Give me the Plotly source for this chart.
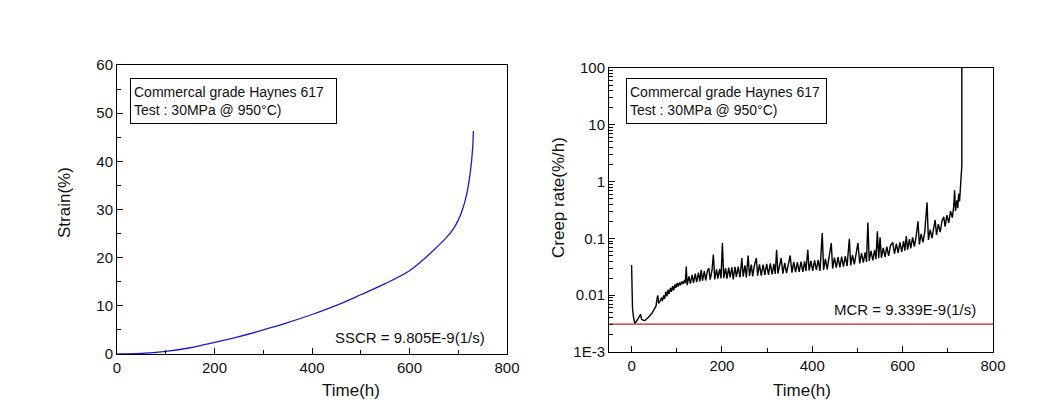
import plotly.graph_objects as go

# ---------------- data ----------------
strain_time = [0, 50, 100, 150, 200, 250, 300, 350, 400, 450, 500, 550, 600, 625, 650,
               675, 690, 700, 708, 714, 719, 723, 726, 728, 730, 731]
strain_pct = [0, 0.12, 0.55, 1.3, 2.4, 3.6, 5.0, 6.5, 8.2, 10.1, 12.3, 14.6, 17.3, 19.3,
              21.6, 24.1, 26.0, 27.8, 29.8, 31.8, 34.0, 36.5, 38.8, 40.8, 43.5, 46.3]

# creep rate readings (time h, rate %/h)
rate_points = [
    (0, 0.034), (1, 0.012), (2, 0.006), (4, 0.0042), (7, 0.0032), (10, 0.0034), (14, 0.0039),
    (18, 0.0043), (20, 0.0046), (22, 0.0038), (26, 0.0036), (30, 0.0036), (35, 0.0039),
    (40, 0.0043), (45, 0.0048), (50, 0.0055), (54, 0.0064), (57, 0.0092), (58, 0.0099),
    (60, 0.0072), (63, 0.0078), (66, 0.0090), (68, 0.0079), (71, 0.0099), (73, 0.0086),
    (76, 0.0115), (78, 0.0095), (81, 0.0125), (83, 0.0104), (86, 0.0135), (88, 0.0115),
    (91, 0.0145), (93, 0.0122), (96, 0.0155), (98, 0.0135), (101, 0.0165), (103, 0.0142),
    (106, 0.0168), (108, 0.0150), (111, 0.0175), (114, 0.0158), (117, 0.0185), (119, 0.0162),
    (121, 0.032), (123, 0.0150), (127, 0.0215), (130, 0.0160), (134, 0.0228), (137, 0.0165),
    (141, 0.0240), (144, 0.0170), (148, 0.0250), (151, 0.0175), (154, 0.028), (157, 0.0180),
    (161, 0.0265), (164, 0.0182), (168, 0.0270), (171, 0.030), (174, 0.0188), (178, 0.0275),
    (181, 0.052), (184, 0.0190), (188, 0.0285), (191, 0.0195), (195, 0.0290), (198, 0.0198),
    (201, 0.083), (204, 0.0200), (208, 0.0300), (211, 0.0195), (215, 0.0305), (218, 0.0205),
    (222, 0.0310), (225, 0.0190), (229, 0.0315), (232, 0.0210), (236, 0.0320), (240, 0.0205),
    (244, 0.045), (247, 0.0212), (251, 0.0335), (254, 0.0205), (258, 0.050), (261, 0.0218),
    (265, 0.0345), (268, 0.0215), (272, 0.0340), (276, 0.045), (279, 0.0220), (283, 0.0350),
    (287, 0.0222), (291, 0.0345), (295, 0.0228), (299, 0.0355), (303, 0.0228), (307, 0.0365),
    (311, 0.0232), (315, 0.0355), (318, 0.0236), (321, 0.063), (324, 0.0240), (328, 0.0365),
    (331, 0.045), (335, 0.0240), (339, 0.0372), (343, 0.0245), (347, 0.0378), (351, 0.050),
    (355, 0.0250), (359, 0.0385), (363, 0.0255), (367, 0.0380), (371, 0.0258), (375, 0.0390),
    (379, 0.0258), (383, 0.0395), (386, 0.0268), (390, 0.063), (393, 0.0272), (397, 0.0400),
    (401, 0.0268), (405, 0.0412), (409, 0.0278), (413, 0.0418), (417, 0.0268), (422, 0.124),
    (425, 0.0278), (429, 0.0435), (433, 0.0286), (437, 0.0445), (442, 0.083), (445, 0.0295),
    (449, 0.0458), (453, 0.0305), (457, 0.0468), (461, 0.0308), (465, 0.0480), (469, 0.0318),
    (473, 0.0490), (477, 0.0326), (482, 0.098), (485, 0.0335), (489, 0.0512), (493, 0.0348),
    (497, 0.0525), (501, 0.083), (505, 0.0362), (509, 0.0548), (513, 0.0375), (517, 0.0570),
    (520, 0.0385), (523, 0.19), (526, 0.0402), (530, 0.0605), (534, 0.0410), (538, 0.0625),
    (541, 0.0430), (544, 0.133), (547, 0.0448), (550, 0.105), (553, 0.0456), (557, 0.0680),
    (561, 0.0474), (565, 0.0715), (569, 0.0492), (573, 0.0748), (578, 0.085), (582, 0.0536),
    (586, 0.0805), (590, 0.0554), (594, 0.0848), (598, 0.0580), (602, 0.0892), (605, 0.0608),
    (608, 0.110), (611, 0.0635), (615, 0.0970), (618, 0.0670), (622, 0.1040), (626, 0.0715),
    (630, 0.1105), (634, 0.200), (637, 0.0786), (641, 0.1205), (645, 0.0848), (649, 0.1305),
    (654, 0.43), (657, 0.0938), (661, 0.1430), (665, 0.1010), (669, 0.1560), (672, 0.21),
    (675, 0.1145), (679, 0.1785), (683, 0.1295), (687, 0.2010), (691, 0.24), (694, 0.1610),
    (698, 0.2570), (702, 0.1880), (706, 0.3010), (710, 0.2320), (713, 0.3680), (715, 0.70),
    (717, 0.3040), (720, 0.4700), (722, 0.3400), (724, 0.6100), (726, 0.4500), (728, 0.8000),
    (729, 0.7000), (730, 0.9500), (730.6, 1.3), (731, 1.9), (731, 100),
]
rate_time = [p[0] for p in rate_points]
rate_pct_h = [p[1] for p in rate_points]

mcr_rate = 0.0031
x_ticks = [0, 200, 400, 600, 800]
strain_ticks = [0, 10, 20, 30, 40, 50, 60]
rate_ticks = [0.001, 0.01, 0.1, 1, 10, 100]
rate_tick_text = ["1E-3", "0.01", "0.1", "1", "10", "100"]
box_text = "Commercal grade Haynes 617<br>Test : 30MPa @ 950°C)"

FONT = "Liberation Sans, Arial, sans-serif"
W, H = 1047, 410

fig = go.Figure()
fig.add_trace(go.Scatter(x=strain_time, y=strain_pct, mode="lines",
                         line=dict(color="#1a1acc", width=1.3, shape="spline", smoothing=1.0),
                         xaxis="x", yaxis="y", showlegend=False))
fig.add_trace(go.Scatter(x=rate_time, y=rate_pct_h, mode="lines",
                         line=dict(color="#000000", width=1.4), xaxis="x2", yaxis="y2",
                         showlegend=False))
fig.add_trace(go.Scatter(x=[-50, 800], y=[mcr_rate, mcr_rate], mode="lines",
                         line=dict(color="#bf1e1e", width=1.3), xaxis="x2", yaxis="y2",
                         showlegend=False))

axis_common = dict(showline=True, linecolor="black", linewidth=1, mirror=True,
                   ticks="inside", ticklen=6, tickcolor="black", showgrid=False,
                   zeroline=False, automargin=False,
                   tickfont=dict(family=FONT, size=15, color="#111"))

fig.update_layout(
    width=W, height=H, autosize=False, margin=dict(l=0, r=0, t=0, b=0, pad=0),
    paper_bgcolor="white", plot_bgcolor="white", showlegend=False,
    xaxis=dict(domain=[117 / W, 507 / W], range=[0, 800], tickvals=x_ticks,
               minor=dict(ticks="inside", ticklen=4, tickcolor="black", dtick=100),
               anchor="y", **axis_common),
    yaxis=dict(domain=[1 - 354 / H, 1 - 65 / H], range=[0, 60], tickvals=strain_ticks,
               minor=dict(ticks="inside", ticklen=4, tickcolor="black", dtick=5),
               anchor="x", **axis_common),
    xaxis2=dict(domain=[609 / W, 993 / W], range=[-50, 800], tickvals=x_ticks,
                minor=dict(ticks="inside", ticklen=4, tickcolor="black", tickvals=[100, 300, 500, 700]),
                anchor="y2", **axis_common),
    yaxis2=dict(domain=[1 - 352 / H, 1 - 68 / H], type="log", range=[-3, 2],
                tickvals=rate_ticks, ticktext=rate_tick_text,
                minor=dict(ticks="inside", ticklen=4, tickcolor="black",
                           tickvals=[m * 10 ** e for e in range(-3, 2) for m in range(2, 10)]),
                anchor="x2", **axis_common),
)

ann_font = dict(family=FONT, size=14, color="#111")
title_font = dict(family=FONT, size=17, color="#111")

fig.add_annotation(xref="paper", yref="paper", x=130 / W, y=1 - 78 / H, xanchor="left",
                   yanchor="top", text=box_text, showarrow=False, align="left",
                   bordercolor="black", borderwidth=1, borderpad=3, width=199, height=38,
                   font=ann_font, bgcolor="white")
fig.add_annotation(xref="paper", yref="paper", x=626 / W, y=1 - 78 / H, xanchor="left",
                   yanchor="top", text=box_text, showarrow=False, align="left",
                   bordercolor="black", borderwidth=1, borderpad=3, width=193, height=38,
                   font=ann_font, bgcolor="white")
fig.add_annotation(xref="paper", yref="paper", x=487 / W, y=1 - 337 / H, xanchor="right",
                   yanchor="middle", text="SSCR = 9.805E-9(1/s)", showarrow=False,
                   font=dict(family=FONT, size=15, color="#111"))
fig.add_annotation(xref="paper", yref="paper", x=978 / W, y=1 - 309 / H, xanchor="right",
                   yanchor="middle", text="MCR = 9.339E-9(1/s)", showarrow=False,
                   font=dict(family=FONT, size=15, color="#111"))
fig.add_annotation(xref="paper", yref="paper", x=351 / W, y=1 - 390 / H, xanchor="center",
                   yanchor="middle", text="Time(h)", showarrow=False, font=title_font)
fig.add_annotation(xref="paper", yref="paper", x=802 / W, y=1 - 390 / H, xanchor="center",
                   yanchor="middle", text="Time(h)", showarrow=False, font=title_font)
fig.add_annotation(xref="paper", yref="paper", x=64 / W, y=1 - 203 / H, xanchor="center",
                   yanchor="middle", text="Strain(%)", textangle=-90, showarrow=False,
                   font=title_font)
fig.add_annotation(xref="paper", yref="paper", x=558 / W, y=1 - 198 / H, xanchor="center",
                   yanchor="middle", text="Creep rate(%/h)", textangle=-90, showarrow=False,
                   font=title_font)

fig.write_html(
    "out.html",
    config={"displayModeBar": False},
    post_script=("document.documentElement.style.margin='0';"
                 "document.body.style.margin='0';"
                 "document.documentElement.style.overflow='hidden';"
                 "document.body.style.overflow='hidden';"),
)
